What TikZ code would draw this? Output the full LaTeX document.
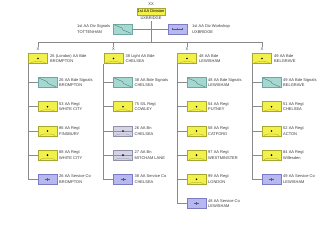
\documentclass[tikz,border=0pt]{standalone}
\usepackage{fontspec}
\setmainfont{Liberation Sans}
\definecolor{aay}{HTML}{F2F04A}
\definecolor{aayb}{HTML}{A8A830}
\definecolor{sig}{HTML}{A6D8D2}
\definecolor{sigb}{HTML}{6FA8A2}
\definecolor{svc}{HTML}{B8B8F0}
\definecolor{svcb}{HTML}{7C7CC4}
\definecolor{slc}{HTML}{D4D4E4}
\definecolor{slb}{HTML}{9090A8}
\definecolor{txt}{HTML}{3A3A3A}
\definecolor{ln}{HTML}{8A8A8A}
\newcommand\aasym[1]{\fill (#1.center) circle (0.9pt);
  \draw[aayb,line width=0.3pt] ([xshift=2pt]#1.south west) .. controls ([xshift=2pt,yshift=3pt]#1.south west) and ([xshift=-2pt,yshift=3pt]#1.south east) .. ([xshift=-2pt]#1.south east);}
\newcommand\sigsym[1]{\draw[sigb!70!black,line width=0.35pt] ([xshift=1.5pt,yshift=-1pt]#1.north west) -- ([xshift=-0.5pt,yshift=1pt]#1.center) -- ([xshift=0.5pt,yshift=-1pt]#1.center) -- ([xshift=-1.5pt,yshift=1pt]#1.south east);}
\newcommand\svcsym[1]{\draw[svcb!70!black,line width=0.35pt] ([xshift=-2.5pt]#1.center) -- ([xshift=2.5pt]#1.center) ([yshift=-1.2pt]#1.center) -- ([yshift=1.2pt]#1.center);}
\newcommand\wssym[1]{\draw[svcb!70!black,line width=0.35pt] ([xshift=-5pt]#1.center) -- ([xshift=5pt]#1.center) ([xshift=-5pt,yshift=-1pt]#1.center) -- ([xshift=-5pt,yshift=1pt]#1.center) ([xshift=5pt,yshift=-1pt]#1.center) -- ([xshift=5pt,yshift=1pt]#1.center);
  \fill[svcb!60!black] (#1.center) circle (0.6pt);}
\newcommand\slsym[1]{\draw[slb,line width=0.3pt] (#1.west) -- (#1.east);
  \fill (#1.center) circle (0.9pt);
  \draw[slb,line width=0.3pt] ([xshift=2pt]#1.south west) .. controls ([xshift=2pt,yshift=3pt]#1.south west) and ([xshift=-2pt,yshift=3pt]#1.south east) .. ([xshift=-2pt]#1.south east);}
\begin{document}
\begin{tikzpicture}[x=1pt,y=-1pt,
  unitbox/.style={rectangle,minimum width=19pt,minimum height=10pt,inner sep=0pt,line width=0.5pt},
  aa/.style={unitbox,fill=aay,draw=aayb},
  sigbox/.style={unitbox,fill=sig,draw=sigb},
  svcbox/.style={unitbox,fill=svc,draw=svcb},
  slbox/.style={unitbox,fill=slc,draw=slb},
  lab/.style={anchor=west,align=left,inner sep=0pt,font=\fontsize{4}{5.6}\selectfont,text=txt},
  ech/.style={inner sep=0pt,font=\fontsize{4}{4}\selectfont,text=txt},
  conn/.style={draw=ln,line width=0.8pt}]
\useasboundingbox[fill=white] (0,0) rectangle (330,226);

% top
\node[ech] (dxx) at (151,4.6) {XX};
\node[rectangle,fill=aay,draw=aayb,line width=0.5pt,minimum width=28pt,minimum height=7pt,inner sep=0pt,font=\fontsize{4}{4}\selectfont] (div) at (151,11.5) {1st AA Division};
\node[ech] (divt) at (151,18.3) {UXBRIDGE};
\node[sigbox] (dsig) at (122.5,29) {};
\sigsym{dsig}
\node[lab] (dsigl) at (77,29) {1st AA Div Signals\\TOTTENHAM};
\node[svcbox] (dws) at (177.5,29) {};
\wssym{dws}
\node[lab] (dwsl) at (192,29) {1st AA Div Workshop\\UXBRIDGE};
\coordinate (tr) at (151,21);
\coordinate (bus) at (151,42);
\draw[conn] (dsig.east) -- (dws.west);
\draw[conn] (tr) -- (bus);

% brigades
\node[aa] (b1) at (38,58.5) {}; \aasym{b1}
\node[aa] (b2) at (113.5,58.5) {}; \aasym{b2}
\node[aa] (b3) at (187,58.5) {}; \aasym{b3}
\node[aa] (b4) at (262,58.5) {}; \aasym{b4}
\node[ech] (x1) at (38,48.8) {X};
\node[ech] (x2) at (113.5,48.8) {X};
\node[ech] (x3) at (187,48.8) {X};
\node[ech] (x4) at (262,48.8) {X};
\node[lab] at (50,58.5) {26 (London) AA Bde\\BROMPTON};
\node[lab] at (125.5,58.5) {38 Light AA Bde\\CHELSEA};
\node[lab] at (199,58.5) {48 AA Bde\\LEWISHAM};
\node[lab] at (274,58.5) {49 AA Bde\\BELGRAVE};
\draw[conn] (x1.north |- bus) -- (x4.north |- bus);
\foreach \i in {1,2,3,4}{\draw[conn] (x\i.north |- bus) -- (x\i.north);}

% column 1
\node[sigbox] (s11) at (47.5,82.5) {}; \sigsym{s11}
\node[aa] (s12) at (47.5,106.7) {}; \aasym{s12}
\node[aa] (s13) at (47.5,130.9) {}; \aasym{s13}
\node[aa] (s14) at (47.5,155.1) {}; \aasym{s14}
\node[svcbox] (s15) at (47.5,179.3) {}; \svcsym{s15}
\node[lab] at (59,82.5) {26 AA Bde Signals\\BROMPTON};
\node[lab] at (59,106.7) {53 AA Regt\\WHITE CITY};
\node[lab] at (59,130.9) {86 AA Regt\\FINSBURY};
\node[lab] at (59,155.1) {88 AA Regt\\WHITE CITY};
\node[lab] at (59,179.3) {26 AA Service Co\\BROMPTON};
\draw[conn] (b1.south west) |- (s15.west);
\foreach \k in {1,2,3,4}{\draw[conn] (b1.south west |- s1\k.west) -- (s1\k.west);}

% column 2
\node[sigbox] (s21) at (123,82.5) {}; \sigsym{s21}
\node[aa] (s22) at (123,106.7) {}; \aasym{s22}
\node[slbox] (s23) at (123,130.9) {}; \slsym{s23}
\node[slbox] (s24) at (123,155.1) {}; \slsym{s24}
\node[svcbox] (s25) at (123,179.3) {}; \svcsym{s25}
\node[lab] at (134.5,82.5) {38 AA Bde Signals\\CHELSEA};
\node[lab] at (134.5,106.7) {75 S/L Regt\\COWLEY};
\node[lab] at (134.5,130.9) {26 AA Bn\\CHELSEA};
\node[lab] at (134.5,155.1) {27 AA Bn\\MITCHAM LANE};
\node[lab] at (134.5,179.3) {38 AA Service Co\\CHELSEA};
\draw[conn] (b2.south west) |- (s25.west);
\foreach \k in {1,2,3,4}{\draw[conn] (b2.south west |- s2\k.west) -- (s2\k.west);}

% column 3
\node[sigbox] (s31) at (196.5,82.5) {}; \sigsym{s31}
\node[aa] (s32) at (196.5,106.7) {}; \aasym{s32}
\node[aa] (s33) at (196.5,130.9) {}; \aasym{s33}
\node[aa] (s34) at (196.5,155.1) {}; \aasym{s34}
\node[aa] (s35) at (196.5,179.3) {}; \aasym{s35}
\node[svcbox] (s36) at (196.5,203.5) {}; \svcsym{s36}
\node[lab] at (208,82.5) {48 AA Bde Signals\\LEWISHAM};
\node[lab] at (208,106.7) {54 AA Regt\\PUTNEY};
\node[lab] at (208,130.9) {58 AA Regt\\CATFORD};
\node[lab] at (208,155.1) {97 AA Regt\\WESTMINSTER};
\node[lab] at (208,179.3) {99 AA Regt\\LONDON};
\node[lab] at (208,203.5) {48 AA Service Co\\LEWISHAM};
\draw[conn] (b3.south west) |- (s36.west);
\foreach \k in {1,2,3,4,5}{\draw[conn] (b3.south west |- s3\k.west) -- (s3\k.west);}

% column 4
\node[sigbox] (s41) at (271.5,82.5) {}; \sigsym{s41}
\node[aa] (s42) at (271.5,106.7) {}; \aasym{s42}
\node[aa] (s43) at (271.5,130.9) {}; \aasym{s43}
\node[aa] (s44) at (271.5,155.1) {}; \aasym{s44}
\node[svcbox] (s45) at (271.5,179.3) {}; \svcsym{s45}
\node[lab] at (283,82.5) {49 AA Bde Signals\\BELGRAVE};
\node[lab] at (283,106.7) {51 AA Regt\\CHELSEA};
\node[lab] at (283,130.9) {52 AA Regt\\ACTON};
\node[lab] at (283,155.1) {84 AA Regt\\Willesden};
\node[lab] at (283,179.3) {49 AA Service Co\\LEWISHAM};
\draw[conn] (b4.south west) |- (s45.west);
\foreach \k in {1,2,3,4}{\draw[conn] (b4.south west |- s4\k.west) -- (s4\k.west);}
\end{tikzpicture}
\end{document}
